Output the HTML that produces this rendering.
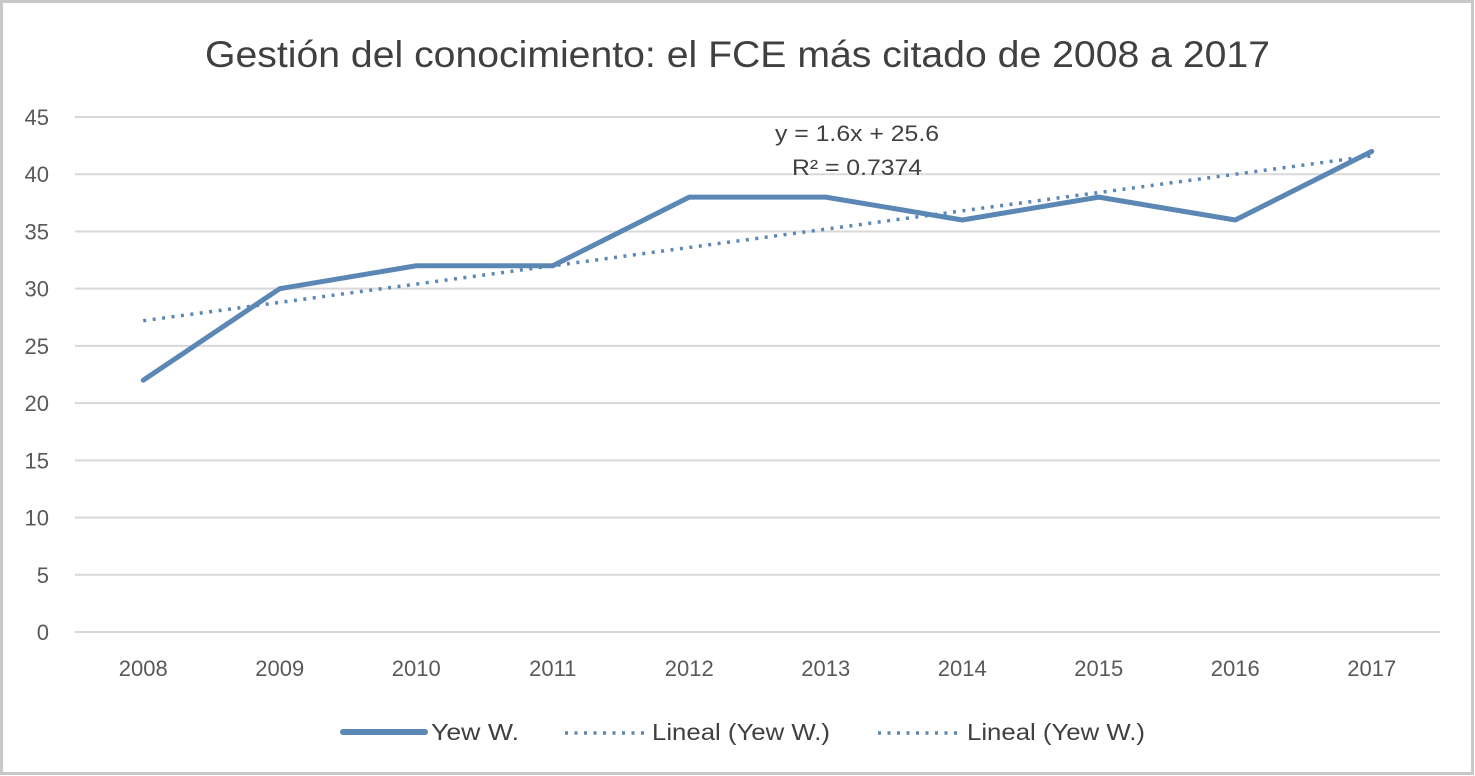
<!DOCTYPE html>
<html><head><meta charset="utf-8"><style>
html,body{margin:0;padding:0;background:#fff;}
svg{display:block;font-family:"Liberation Sans",sans-serif;}
</style></head><body>
<svg id="chart" width="1475" height="776" viewBox="0 0 1475 776">
<rect x="1.5" y="1.5" width="1471" height="772" fill="#fff" stroke="#c8c8c8" stroke-width="3"/>
<text x="205" y="67" textLength="1065" lengthAdjust="spacingAndGlyphs" font-size="37" fill="#404040">Gestión del conocimiento: el FCE más citado de 2008 a 2017</text>
<g id="grid"></g><g id="ylab"></g><g id="xlab"></g><g id="series"></g>
<text x="857" y="141" text-anchor="middle" font-size="22" fill="#404040" textLength="164" lengthAdjust="spacingAndGlyphs">y = 1.6x + 25.6</text>
<text x="857" y="175" text-anchor="middle" font-size="22" fill="#404040" textLength="130" lengthAdjust="spacingAndGlyphs">R² = 0.7374</text>
<g>
<line x1="343" y1="732" x2="425" y2="732" stroke="#5b87b5" stroke-width="6" stroke-linecap="round"/>
<text x="431" y="740" textLength="88" lengthAdjust="spacingAndGlyphs" font-size="23" fill="#404040">Yew W.</text>
<line x1="565" y1="733" x2="645" y2="733" stroke="#5b87b5" stroke-width="3.5" stroke-dasharray="3 6.5"/>
<text x="652" y="740" textLength="178" lengthAdjust="spacingAndGlyphs" font-size="23" fill="#404040">Lineal (Yew W.)</text>
<line x1="878" y1="733" x2="958" y2="733" stroke="#5b87b5" stroke-width="3.5" stroke-dasharray="3 6.5"/>
<text x="967" y="740" textLength="178" lengthAdjust="spacingAndGlyphs" font-size="23" fill="#404040">Lineal (Yew W.)</text>
</g>
</svg>
<script>
const categories = ["2008","2009","2010","2011","2012","2013","2014","2015","2016","2017"];
const yewValues = [22,30,32,32,38,38,36,38,36,42];
const yTicks = [0,5,10,15,20,25,30,35,40,45];
const trendSlope = 1.6;
const trendIntercept = 25.6;

const NS = "http://www.w3.org/2000/svg";
const L = 75, R = 1440, Y0 = 632, Y45 = 117;
const xs = i => L + (R - L) / categories.length * (i + 0.5);
const ys = v => Y0 - (Y0 - Y45) * v / 45;
function mk(tag, attrs, parent){const e=document.createElementNS(NS,tag);for(const k in attrs)e.setAttribute(k,attrs[k]);document.getElementById(parent).appendChild(e);return e;}

yTicks.forEach(t=>{
  const g = mk("line",{x1:L,x2:R,y1:ys(t),y2:ys(t),stroke:"#d9d9d9","stroke-width":2},"grid");
  
  
  const tx = mk("text",{x:49,y:ys(t)+8,"text-anchor":"end","font-size":22,fill:"#595959"},"ylab");
  tx.textContent = t;
  
  
});
categories.forEach((c,i)=>{
  const tx = mk("text",{x:xs(i),y:676,"text-anchor":"middle","font-size":22,fill:"#595959"},"xlab");
  tx.textContent = c;
  
  
});
const pts = yewValues.map((v,i)=>xs(i)+","+ys(v)).join(" ");
const pl = mk("polyline",{points:pts,fill:"none",stroke:"#5b87b5","stroke-width":5,"stroke-linejoin":"round","stroke-linecap":"round"},"series");


const n = categories.length;
const tl = mk("line",{x1:xs(0),y1:ys(trendSlope*1+trendIntercept),x2:xs(n-1),y2:ys(trendSlope*n+trendIntercept),stroke:"#5b87b5","stroke-width":3.5,"stroke-dasharray":"3 6.5"},"series");


</script>
</body></html>
